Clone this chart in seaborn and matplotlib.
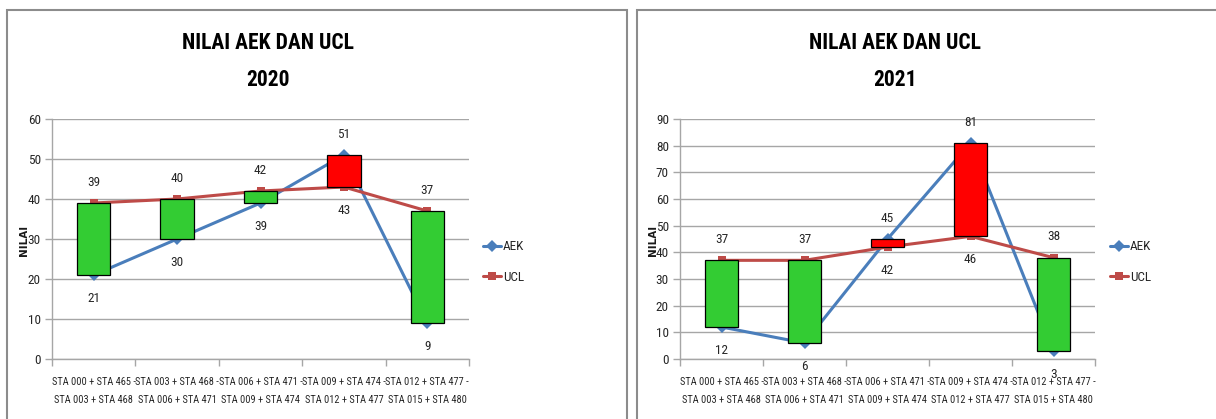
import matplotlib
matplotlib.use("Agg")
import matplotlib.pyplot as plt
from matplotlib import font_manager as fm
from matplotlib.patches import Rectangle
from matplotlib.lines import Line2D
import seaborn as sns
import pandas as pd

# Segment labels (shared by both years)
segments = [
    "STA 000 + STA 465 -\nSTA 003 + STA 468",
    "STA 003 + STA 468 -\nSTA 006 + STA 471",
    "STA 006 + STA 471 -\nSTA 009 + STA 474",
    "STA 009 + STA 474 -\nSTA 012 + STA 477",
    "STA 012 + STA 477 -\nSTA 015 + STA 480",
]

aek_2020 = [21, 30, 39, 51, 9]
ucl_2020 = [39, 40, 42, 43, 37]
aek_2021 = [12, 6, 45, 81, 3]
ucl_2021 = [37, 37, 42, 46, 38]

years = ["2020", "2021"]
y_max = [60, 90]

sns.set_theme(style="white")

# Prefer a narrow face for the chart text when one is available
installed = {f.name for f in fm.fontManager.ttflist}
narrow = [n for n in ["Liberation Sans Narrow", "DejaVu Sans Condensed", "Roboto Condensed",
                      "Open Sans Condensed", "Noto Sans Condensed", "Arial Narrow"]
          if n in installed]
FONT = narrow[:1] + ["Roboto", "DejaVu Sans"]
plt.rcParams["font.family"] = FONT
NARROW = bool(narrow)

AEK_COLOR = "#4A7EBB"
UCL_COLOR = "#BE4B48"
UP_COLOR = "#FF0000"
DOWN_COLOR = "#33CC33"
GRID = "#A6A6A6"
TEXT = "#262626"

W, H = 1216, 419
fig = plt.figure(figsize=(W / 100, H / 100), dpi=100)


def fx(px):
    return px / W


def fy(py):
    return 1 - py / H


# Panel frames
for x0, x1 in [(7, 627), (637, 1230)]:
    fig.patches.append(Rectangle((fx(x0), fy(440)), fx(x1 - x0), (440 - 10) / H,
                                 transform=fig.transFigure, fill=False,
                                 edgecolor="#8C8C8C", linewidth=1.5))

panels = [
    dict(aek=aek_2020, ucl=ucl_2020, year=years[0], ymax=y_max[0],
         ax_px=(52, 469), title_x=268, ylab_x=24, leg_x=483),
    dict(aek=aek_2021, ucl=ucl_2021, year=years[1], ymax=y_max[1],
         ax_px=(680, 1095), title_x=895, ylab_x=653, leg_x=1110),
]

tick_size = 7.5 if NARROW else 6.6
title_size = 15.5 if NARROW else 13

for p in panels:
    left, right = p["ax_px"]
    top, bottom = 119, 359
    ax = fig.add_axes([fx(left), fy(bottom), fx(right - left), (bottom - top) / H])

    df = pd.DataFrame({"pos": range(len(segments)), "AEK": p["aek"], "UCL": p["ucl"]})

    sns.lineplot(data=df, x="pos", y="AEK", ax=ax, color=AEK_COLOR, linewidth=2.2,
                 marker="D", markersize=6, markeredgewidth=0, zorder=2)
    sns.lineplot(data=df, x="pos", y="UCL", ax=ax, color=UCL_COLOR, linewidth=2.2,
                 marker="s", markersize=6, markeredgewidth=0, zorder=2)

    # Up/down bars between AEK and UCL
    for i, (a, u) in enumerate(zip(p["aek"], p["ucl"])):
        lo, hi = min(a, u), max(a, u)
        color = UP_COLOR if a > u else DOWN_COLOR
        ax.bar(i, hi - lo, bottom=lo, width=0.4, color=color, edgecolor="black",
               linewidth=0.9, zorder=3)
        ax.annotate(str(hi), (i, hi), xytext=(0, 15), textcoords="offset points",
                    ha="center", va="center", fontsize=9.5, color=TEXT, zorder=5)
        ax.annotate(str(lo), (i, lo), xytext=(0, -17), textcoords="offset points",
                    ha="center", va="center", fontsize=9.5, color=TEXT, zorder=5)

    ax.set_xlim(-0.5, len(segments) - 0.5)
    ax.set_ylim(0, p["ymax"])
    ax.set_yticks(range(0, p["ymax"] + 1, 10))
    ax.set_xticks(range(len(segments)))
    ax.set_xticklabels(segments, fontsize=tick_size, color=TEXT, linespacing=2.0)
    ax.set_xticks([i - 0.5 for i in range(len(segments) + 1)], minor=True)
    ax.tick_params(axis="x", which="major", length=0, pad=13)
    ax.tick_params(axis="x", which="minor", length=5, color=GRID, width=1,
                   direction="out", bottom=True)
    ax.tick_params(axis="y", length=5, color=GRID, width=1, direction="out",
                   labelsize=9.5, labelcolor=TEXT, pad=3, left=True)
    ax.yaxis.grid(True, color=GRID, linewidth=1)
    ax.set_axisbelow(True)
    for s in ["top", "right"]:
        ax.spines[s].set_visible(False)
    for s in ["left", "bottom"]:
        ax.spines[s].set_color(GRID)
        ax.spines[s].set_linewidth(1)
    ax.set_xlabel("")
    ax.set_ylabel("")

    fig.text(fx(p["ylab_x"]), fy(240), "NILAI", rotation=90, ha="center", va="center",
             fontsize=7.5, fontweight="bold", family=["DejaVu Sans"], color="#1a1a1a")
    fig.text(fx(p["title_x"]), fy(43), "NILAI AEK DAN UCL", ha="center", va="center",
             fontsize=title_size, fontweight="bold", color="black")
    fig.text(fx(p["title_x"]), fy(80), p["year"], ha="center", va="center",
             fontsize=title_size, fontweight="bold", color="black")

    handles = [
        Line2D([], [], color=AEK_COLOR, linewidth=2.2, marker="D", markersize=6, markeredgewidth=0),
        Line2D([], [], color=UCL_COLOR, linewidth=2.2, marker="s", markersize=6, markeredgewidth=0),
    ]
    fig.legend(handles, ["AEK", "UCL"], loc="center left",
               bbox_to_anchor=(fx(p["leg_x"]), fy(262)), bbox_transform=fig.transFigure,
               frameon=False, handlelength=1.4, handletextpad=0.1, labelspacing=1.3,
               fontsize=9.5, borderpad=0, borderaxespad=0)

fig.savefig("out.png", dpi=100, facecolor="white")
